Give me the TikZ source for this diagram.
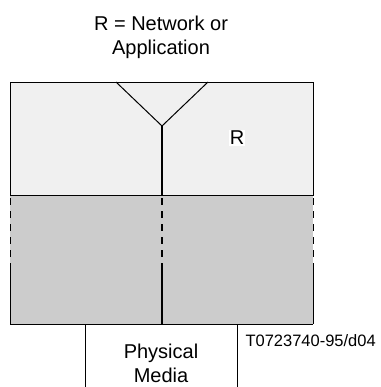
\documentclass[tikz,border=0pt]{standalone}
\usepackage{fontspec}
\setmainfont{Liberation Sans}
\usetikzlibrary{calc}

\begin{document}
\begin{tikzpicture}[x=1pt,y=-1pt,line width=1pt]
  \tikzset{
    upper/.style={fill=black!6},
    lower/.style={fill=black!20},
    brk/.style={dash pattern=on 7pt off 6pt,dash phase=10pt},
    txt/.style={font=\fontsize{20}{24}\selectfont,align=center,inner sep=0pt},
  }
  \useasboundingbox (0,0) rectangle (380,387);
  \coordinate (A) at (10,83);
  \coordinate (B) at (313,83);
  \coordinate (C) at (313,195);
  \coordinate (D) at (10,195);
  \coordinate (E) at (10,324);
  \coordinate (F) at (313,324);
  \coordinate (Yl) at (116,82);
  \coordinate (Yr) at (208,82);
  \coordinate (Y) at (162,126);
  \coordinate (M) at (162,195);
  \coordinate (N) at (162,324);
  \coordinate (P) at (85,324);
  \coordinate (Q) at (237,324);

  \fill[upper] (A) rectangle (C);
  \fill[lower] (D) rectangle (F);
  \draw (D) -- (A) -- (B) -- (C) -- cycle;
  \draw (E) -- (F);
  \draw[brk] (D) -- ($(D)+(0,68)$);
  \draw ($(D)+(0,68)$) -- (E);
  \draw[brk] (C) -- ($(C)+(0,68)$);
  \draw ($(C)+(0,68)$) -- (F);
  \draw (Yl) -- (Y) -- (Yr);
  \draw[line width=1.5pt] (Y) -- (M);
  \draw[line width=1.5pt,brk] (M) -- ($(M)+(0,68)$);
  \draw[line width=1.5pt] ($(M)+(0,68)$) -- (N);
  \draw (P) -- (0,387 -| P);
  \draw (Q) -- (0,387 -| Q);

  \node[txt] (title) at (161,37) {R = Network or\\Application};
  \node[txt,fill=white,inner sep=1pt] (r) at (237,138) {R};
  \node[txt] (media) at (161,363) {Physical\\Media};
  \node[txt,font=\fontsize{16.5}{20}\selectfont,anchor=west] (ref) at (245,341) {T0723740-95/d04};
\end{tikzpicture}
\end{document}
